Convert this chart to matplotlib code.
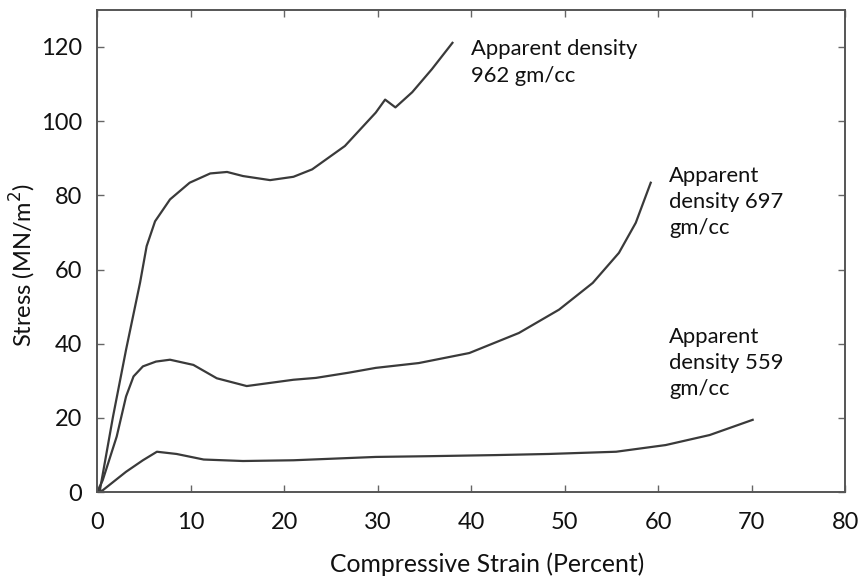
import matplotlib.pyplot as plt

plt.rcParams['font.family'] = ['Lato', 'DejaVu Sans']

# curve for apparent density 962 gm/cc
strain_962 = [0, 0.3, 1.7, 3.1, 4.6, 5.3, 6.2, 7.8, 9.9, 12.1, 13.9, 15.6, 18.5, 21,
              23, 26.5, 29.8, 30.8, 31.9, 33.7, 35.8, 38]
stress_962 = [0, 0.5, 20.3, 38.4, 56.5, 66.3, 73, 78.9, 83.4, 85.9, 86.3, 85.2, 84.1, 85,
              87, 93.3, 102.3, 105.8, 103.7, 107.8, 114, 121.1]

# curve for apparent density 697 gm/cc
strain_697 = [0, 0.6, 2.1, 3.1, 3.9, 4.9, 6.3, 7.8, 10.3, 12.8, 16, 21, 23.4, 26.9, 29.8,
              34.4, 39.8, 45.1, 49.4, 53, 55.8, 57.6, 59.2]
stress_697 = [0, 3.2, 15, 25.8, 31.2, 33.9, 35.2, 35.7, 34.3, 30.7, 28.6, 30.3, 30.8, 32.2, 33.5,
              34.8, 37.5, 42.9, 49.2, 56.4, 64.5, 72.6, 83.4]

# curve for apparent density 559 gm/cc
strain_559 = [0, 0.6, 3.1, 4.9, 6.4, 8.5, 11.4, 15.6, 21, 29.8, 35.5, 42.7, 48.3, 55.5,
              60.8, 65.5, 70.1]
stress_559 = [0, 0.5, 5.5, 8.6, 10.9, 10.3, 8.8, 8.4, 8.6, 9.5, 9.7, 10, 10.3, 10.9,
              12.7, 15.4, 19.5]

x_ticks = [0, 10, 20, 30, 40, 50, 60, 70, 80]
y_ticks = [0, 20, 40, 60, 80, 100, 120]

fig = plt.figure(figsize=(8.59, 5.77), dpi=100)
ax = fig.add_axes([0.113, 0.147, 0.871, 0.836])

line_col = '#3a3a3a'
for xs, ys in [(strain_962, stress_962), (strain_697, stress_697), (strain_559, stress_559)]:
    ax.plot(xs, ys, color=line_col, linewidth=1.6, solid_joinstyle='round')

ax.set_xlim(0, 80)
ax.set_ylim(0, 130)
ax.set_xticks(x_ticks)
ax.set_yticks(y_ticks)
ax.tick_params(direction='in', top=True, right=True, length=5, width=1,
               color='#666666', labelsize=17, labelcolor='#111111')
ax.tick_params(axis='x', pad=14)
ax.tick_params(axis='y', pad=11)
for s in ax.spines.values():
    s.set_color('#555555')
    s.set_linewidth(1.4)

ax.set_xlabel('Compressive Strain (Percent)', fontsize=17.8, color='#111111')
ax.set_ylabel('Stress (MN/m$^2$)', fontsize=17, color='#111111')
ax.xaxis.set_label_coords(0.521, -0.125)
ax.yaxis.set_label_coords(-0.079, 0.47)

txt = dict(fontsize=15.8, color='#111111', va='top', ha='left', linespacing=1.4)
ax.text(40, 122, 'Apparent density\n962 gm/cc', **txt)
ax.text(61.2, 88, 'Apparent\ndensity 697\ngm/cc', **txt)
ax.text(61.2, 44.6, 'Apparent\ndensity 559\ngm/cc', **txt)

fig.savefig('out.png', dpi=100)
